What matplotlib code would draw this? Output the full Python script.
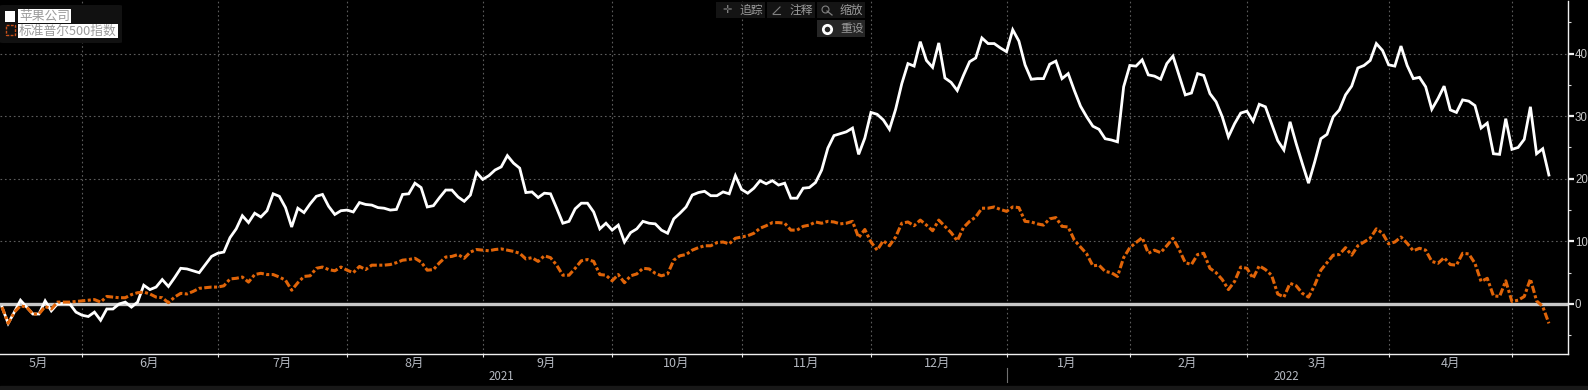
import matplotlib
matplotlib.use("Agg")
import matplotlib.pyplot as plt
from matplotlib.patches import FancyBboxPatch, Rectangle
from matplotlib.lines import Line2D

plt.rcParams['font.family'] = ['Noto Sans CJK SC', 'DejaVu Sans']

aapl = [-0.5,-3.1,-1.3,0.6,-0.5,-1.6,-1.6,0.5,-1.1,0.0,0.1,0.0,-1.3,-1.8,-2.0,-1.3,-2.6,-0.8,-0.8,0.0,
        0.3,-0.5,0.3,3.0,2.3,2.7,3.9,2.8,4.2,5.7,5.6,5.3,5.0,6.3,7.6,8.1,8.3,10.6,12.0,14.1,
        13.0,14.5,13.9,14.9,17.6,17.2,15.4,12.3,15.3,14.6,16.0,17.2,17.5,15.6,14.3,14.9,15.0,14.7,16.2,15.9,
        15.8,15.4,15.3,15.0,15.1,17.5,17.6,19.3,18.6,15.5,15.7,17.0,18.2,18.2,17.1,16.4,17.4,21.0,19.9,20.5,
        21.4,21.9,23.7,22.5,21.7,17.8,17.9,
        17.0,17.7,17.6,15.3,12.9,13.2,15.2,16.1,16.1,14.7,12.0,12.9,11.8,12.6,9.9,11.4,12.0,13.2,12.9,12.8,
        11.8,11.3,13.6,14.5,15.5,17.4,17.8,18.0,17.3,17.3,17.9,17.6,20.5,18.3,17.7,18.5,19.7,19.2,19.7,19.0,
        19.3,16.9,16.9,18.5,18.6,19.4,21.4,24.9,26.9,27.2,27.5,28.1,23.9,26.5,30.6,30.3,29.4,27.9,31.1,35.2,
        38.4,38.0,41.9,38.9,37.8,41.7,36.1,35.4,34.1,36.5,38.7,39.3,42.5,41.6,41.6,40.9,40.3,43.8,42.0,38.2,
        35.9,36.0,36.0,38.3,38.8,
        36.0,36.8,34.1,31.6,29.9,28.4,27.9,26.4,26.2,25.9,34.7,38.1,38.0,39.0,36.6,36.4,35.9,38.4,39.6,36.5,
        33.4,33.7,36.8,36.5,33.6,32.3,29.9,26.7,28.8,30.5,30.8,29.2,31.9,31.5,28.8,26.1,24.6,29.1,25.6,22.4,
        19.3,22.7,26.4,27.1,29.9,31.0,33.4,34.8,37.7,38.1,38.9,41.6,40.5,38.2,38.0,41.2,38.1,36.0,36.2,34.7,
        31.1,32.8,34.8,31.0,30.6,32.6,32.4,31.7,28.1,28.9,24.0,23.9,29.6,24.7,25.0,26.3,31.5,24.0,24.8,20.6]

spx = [-0.5,-3.1,-1.3,-0.3,-0.5,-1.6,-1.6,-0.4,-0.8,0.3,0.3,0.3,0.4,0.5,0.6,0.7,0.3,1.2,1.1,1.0,
       1.0,1.5,1.8,1.9,1.6,1.1,1.0,0.2,1.1,1.7,1.6,2.0,2.5,2.6,2.7,2.7,2.9,4.0,4.1,4.3,
       3.5,4.7,4.9,4.7,4.7,4.3,3.8,2.2,3.4,4.4,4.5,5.7,5.9,5.5,5.3,5.9,5.4,5.0,6.0,5.5,
       6.2,6.2,6.2,6.3,6.6,7.0,7.1,7.3,6.7,5.4,5.5,6.6,7.5,7.6,7.9,7.3,8.3,8.7,8.6,8.5,
       8.7,8.8,8.6,8.4,8.1,7.2,7.4,
       6.8,7.7,7.4,6.2,4.6,4.6,5.7,6.9,7.1,6.8,4.7,4.6,3.7,4.7,3.4,4.5,4.8,5.7,5.6,4.9,
       4.5,4.8,7.0,7.7,7.9,8.6,9.0,9.3,9.3,9.8,9.9,9.6,10.5,10.7,10.9,11.3,12.1,12.5,13.0,13.0,
       12.9,11.8,11.8,12.4,12.6,13.1,12.9,13.2,13.1,12.8,12.9,13.2,10.6,11.9,9.9,8.6,10.1,9.3,10.7,12.9,
       13.1,12.5,13.4,12.6,11.7,13.4,12.4,11.4,10.1,12.2,13.2,13.9,15.3,15.3,15.5,15.1,14.8,15.5,15.4,13.2,
       13.1,12.8,12.6,13.6,13.8,
       12.4,12.3,10.2,9.1,8.0,6.1,6.2,5.2,5.0,4.4,7.4,9.0,9.8,10.6,8.1,8.6,8.2,9.3,10.5,8.7,
       6.6,6.3,7.9,8.1,5.7,5.0,3.9,2.3,3.6,5.9,5.7,4.1,6.1,5.5,4.6,1.6,1.1,3.3,2.9,1.7,
       1.1,3.0,5.4,6.6,7.8,7.9,9.0,7.8,9.3,9.9,10.5,12.0,11.3,9.6,9.9,10.7,9.7,8.5,8.9,8.6,
       6.8,6.5,7.4,6.3,6.2,8.1,8.0,6.5,3.6,4.1,1.3,1.2,3.7,0.4,0.6,1.2,4.0,0.5,-0.4,-3.1]

month_edges = [13, 35, 56, 78, 99, 120, 141, 163, 183, 202, 225, 245]
month_centers = [5.84, 23.85, 45.4, 66.85, 88.3, 109.4, 130.5, 151.8, 172.8, 192.3, 213.4, 235.0]
month_labels = ['5月','6月','7月','8月','9月','10月','11月','12月','1月','2月','3月','4月']
year_centers = [81.05, 208.4]
year_labels = ['2021', '2022']
year_edge = 163
y_major = [0, 10, 20, 30, 40]
y_minor = [-5, 5, 15, 25, 35, 45]

W, H = 1588, 390
fig = plt.figure(figsize=(W/100, H/100), dpi=100, facecolor='black')
ax = fig.add_axes([0, (H-354)/H, 1568/W, 353/H], facecolor='black')
ax.set_xlim(-0.325, 254.1)
ax.set_ylim(-7.99, 48.4)

for s in ('left', 'top'):
    ax.spines[s].set_visible(False)
for s in ('right', 'bottom'):
    ax.spines[s].set_color('#f0f0f0')
    ax.spines[s].set_linewidth(1.0)

grid = dict(color='#5c5c5c', lw=0.8, dashes=(1.5, 2.5), zorder=1)
for x in month_edges:
    ax.axvline(x, **grid)
for y in y_major[1:]:
    ax.axhline(y, **grid)
ax.axhline(0, color='#c8c8c8', lw=2.4, zorder=2)

xs = list(range(len(aapl)))
ax.plot(xs, aapl, color='white', lw=2.0, solid_joinstyle='miter', zorder=3)
ax.plot(xs, spx, color='#e06408', lw=2.2, dashes=(2.4, 0.8, 1.0, 0.8), zorder=5)

ax.yaxis.tick_right()
ax.set_yticks(y_major)
ax.set_yticks(y_minor, minor=True)
ax.set_yticklabels([str(v) for v in y_major], color='#c8c8c8', fontsize=8.3, family='Liberation Sans')
ax.tick_params(axis='y', which='major', length=4, width=1.6, color='#f0f0f0', pad=1)
ax.tick_params(axis='y', which='minor', length=2.5, width=0.8, color='#d8d8d8')
ax.set_xticks(month_edges)
ax.set_xticklabels([])
ax.tick_params(axis='x', direction='out', length=2.5, width=0.8, color='#e8e8e8')

pxy = lambda p: 1 - p / H


def fx(p):
    return p / W


def dx(i):
    return ax.transData.transform((i, 0))[0] / W


for c, l in zip(month_centers, month_labels):
    fig.text(dx(c), pxy(363), l, color='#b4b8c0', fontsize=9, ha='center', va='center')
for c, l in zip(year_centers, year_labels):
    fig.text(dx(c), pxy(376), l, color='#b4b8c0', fontsize=8.3, ha='center', va='center')

fig.add_artist(Rectangle((0, 0), 1, 4/H, transform=fig.transFigure, color='#181818', zorder=0))
xd = dx(year_edge)
fig.add_artist(Line2D([xd, xd], [pxy(368), pxy(382)], color='#707070', lw=0.8))

# legend
fig.add_artist(FancyBboxPatch((fx(0), pxy(43)), 122/W, 38/H, boxstyle='round,pad=0,rounding_size=0.002',
                              transform=fig.transFigure, fc='#111111', ec='none', zorder=6))
fig.add_artist(Rectangle((fx(5), pxy(21.5)), 10/W, 10/H, transform=fig.transFigure, fc='white', ec='none', zorder=7))
fig.add_artist(Rectangle((fx(5.5), pxy(35)), 9/W, 10/H, transform=fig.transFigure, fc='none', ec='#c8501a',
                         lw=1.0, ls=(0, (2, 1)), zorder=7))
fig.text(fx(19), pxy(16), '苹果公司', color='#9a9a9a', fontsize=9.2, ha='left', va='center', zorder=8,
         bbox=dict(fc='white', ec='none', pad=0.6))
fig.text(fx(19), pxy(31), '标准普尔500指数', color='#9a9a9a', fontsize=9.2, ha='left', va='center', zorder=8,
         bbox=dict(fc='white', ec='none', pad=0.6))

# toolbar
buttons = [(716, 2, 49, 16, '追踪', 739, '#141414'), (767, 2, 48, 16, '注释', 789, '#141414'),
           (817, 2, 48, 16, '缩放', 840, '#141414'), (817, 20, 48, 17, '重设', 840, '#262626')]
for bx, by, bw, bh, lab, tx, col in buttons:
    fig.add_artist(Rectangle((fx(bx), pxy(by + bh)), bw/W, bh/H, transform=fig.transFigure, fc=col, ec='none', zorder=6))
    fig.text(fx(tx), pxy(by + bh/2), lab, color='#9a9a9a', fontsize=8.5, ha='left', va='center', zorder=7)
fig.text(fx(727), pxy(10), '✛', color='#808080', fontsize=8, ha='center', va='center', zorder=7, family='DejaVu Sans')
fig.add_artist(Line2D([fx(773), fx(780)], [pxy(14), pxy(7)], color='#808080', lw=0.8, zorder=7))
fig.add_artist(Line2D([fx(773), fx(780)], [pxy(14), pxy(14)], color='#808080', lw=0.8, zorder=7))
fig.add_artist(Line2D([fx(825)], [pxy(9)], marker='o', ms=5, mfc='none', mec='#808080', mew=0.8, zorder=7))
fig.add_artist(Line2D([fx(827), fx(832)], [pxy(11), pxy(15)], color='#808080', lw=0.9, zorder=7))
fig.add_artist(Line2D([fx(827)], [pxy(28.5)], marker='o', ms=6, mfc='#262626', mec='white', mew=2, zorder=7))

fig.savefig('out.png', dpi=100, facecolor='black')
